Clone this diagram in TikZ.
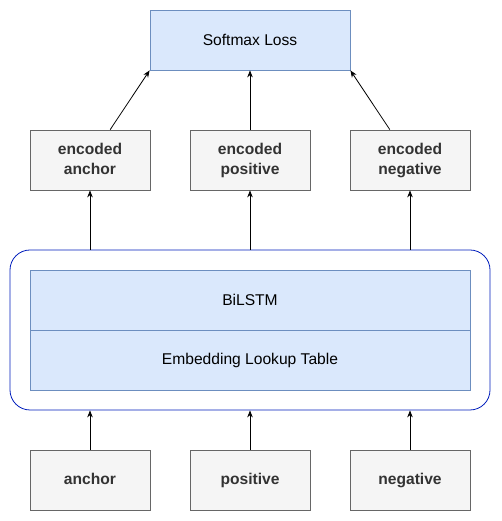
\documentclass[tikz,border=0pt]{standalone}
\usepackage{fontspec}
\setmainfont{Liberation Sans}
\usetikzlibrary{arrows.meta}
\definecolor{bluefill}{HTML}{DAE8FC}
\definecolor{bluedraw}{HTML}{6C8EBF}
\definecolor{greyfill}{HTML}{F5F5F5}
\definecolor{greydraw}{HTML}{666666}
\definecolor{greytext}{HTML}{333333}
\definecolor{framedraw}{HTML}{001DBC}

\begin{document}
\begin{tikzpicture}[x=1pt,y=1pt,line width=0.8pt,>={Stealth[length=7pt,width=5.5pt]},
  font=\fontsize{15.6}{20}\selectfont]
\tikzstyle{layer}=[rectangle,draw=bluedraw,fill=bluefill,inner sep=0pt,minimum height=60]
\tikzstyle{word}=[rectangle,draw=greydraw,fill=greyfill,text=greytext,font=\fontsize{15.6}{20}\selectfont\bfseries,align=center,text depth=3,minimum width=120,minimum height=60,inner sep=0pt]
\useasboundingbox (0,0) rectangle (501,521);
% encoder block
\node[rectangle,draw=framedraw,rounded corners=20,minimum width=480,minimum height=160] (box) at (250,191) {};
\node[layer,minimum width=440] (lstm) at (250,221) {BiLSTM};
\node[layer,minimum width=440] (embed) at (250,161) {Embedding Lookup Table};
\node[layer,minimum width=200] (loss) at (250,481) {Softmax Loss};
\foreach \name/\x in {anchor/90,positive/250,negative/410}{
  \node[word] (in\name) at (\x,41) {\name};
  \node[word] (enc\name) at (\x,361) {encoded\\\name};
  \draw[->] (in\name) -- (in\name |- box.south);
  \draw[->] (box.north -| enc\name) -- (enc\name);
}
\draw[->] (encanchor) -- (loss.south west);
\draw[->] (encpositive) -- (loss);
\draw[->] (encnegative) -- (loss.south east);
\end{tikzpicture}
\end{document}
